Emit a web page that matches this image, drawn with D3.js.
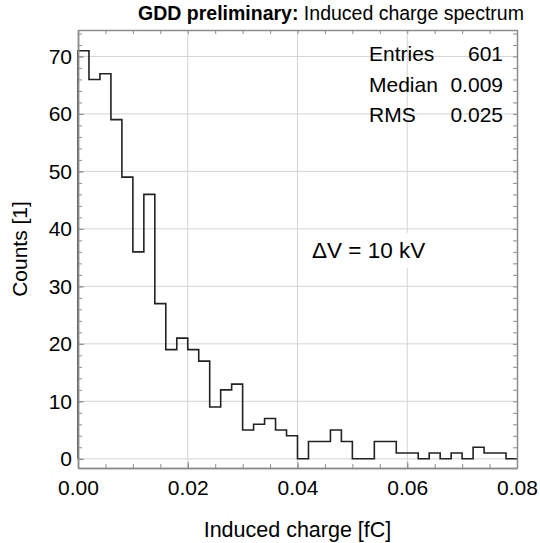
<!DOCTYPE html>
<html>
<head>
<meta charset="utf-8">
<script src="https://cdn.jsdelivr.net/npm/d3@7"></script>
<style>
  body { margin: 0; background: #fff; }
  svg { display: block; font-family: "Liberation Sans", Arial, Helvetica, sans-serif; }
</style>
</head>
<body>
<script>
// histogram: 40 bins of 0.002 fC from 0 to 0.08
var binLow = 0, binWidth = 0.002;
var counts = [71, 66, 67, 59, 49, 36, 46, 27, 19, 21,
              19, 17, 9, 12, 13, 5, 6, 7, 5, 4,
              0, 3, 3, 5, 3, 0, 0, 3, 3, 1,
              1, 0, 1, 0, 1, 0, 2, 1, 1, 0];
var xTicks = [0, 0.02, 0.04, 0.06, 0.08];
var yTicks = [0, 10, 20, 30, 40, 50, 60, 70];
var statNames = ["Entries", "Median", "RMS"];
var statValues = ["601", "0.009", "0.025"];

var width = 540, height = 543;
var m = {top: 30, right: 23, bottom: 75, left: 78};

var x = d3.scaleLinear().domain([0, 0.08]).range([m.left, width - m.right]);
var y = d3.scaleLinear().domain([-1.6, 74.6]).range([height - m.bottom, m.top]);

var svg = d3.select("body").append("svg")
    .attr("width", width)
    .attr("height", height);

// grid
svg.append("g").selectAll("line")
    .data(xTicks.slice(1, -1))
  .enter().append("line")
    .attr("x1", function(d) { return x(d); }).attr("x2", function(d) { return x(d); })
    .attr("y1", m.top).attr("y2", height - m.bottom)
    .attr("stroke", "#d4d4d4").attr("stroke-width", 1);
svg.append("g").selectAll("line")
    .data(yTicks)
  .enter().append("line")
    .attr("x1", m.left).attr("x2", width - m.right)
    .attr("y1", function(d) { return y(d); }).attr("y2", function(d) { return y(d); })
    .attr("stroke", "#d4d4d4").attr("stroke-width", 1);

// text box for the voltage label hides the grid under it
svg.append("rect")
    .attr("x", 305).attr("y", 233).attr("width", 140).attr("height", 35)
    .attr("fill", "#fff");

// histogram outline
var pts = [[x(binLow), y(0)]];
counts.forEach(function(c, i) {
  pts.push([x(binLow + i * binWidth), y(c)]);
  pts.push([x(binLow + (i + 1) * binWidth), y(c)]);
});
pts.push([x(binLow + counts.length * binWidth), y(0)]);
svg.append("path")
    .attr("d", d3.line()(pts))
    .attr("fill", "none")
    .attr("stroke", "#222")
    .attr("stroke-width", 1.6);

// axes, ticks on all four sides, pointing inwards
var axisCol = "#8c8c8c";
function addAxis(axis, tr) {
  var g = svg.append("g").attr("transform", tr).call(axis);
  g.select(".domain").attr("stroke", axisCol).attr("stroke-width", 1.5);
  g.selectAll(".tick line").attr("stroke", axisCol);
  g.selectAll(".tick text").attr("font-size", 21).attr("fill", "#000")
      .attr("font-family", "Liberation Sans, Arial, sans-serif");
  return g;
}
var xMinor = d3.range(0, 0.0801, 0.005);
var yMinor = d3.range(0, 75, 2);

addAxis(d3.axisBottom(x).tickValues(xMinor).tickSize(-4).tickSizeOuter(0).tickFormat(""),
        "translate(0," + (height - m.bottom) + ")");
addAxis(d3.axisBottom(x).tickValues(xTicks).tickSize(-6).tickSizeOuter(0).tickPadding(12).tickFormat(d3.format(".2f")),
        "translate(0," + (height - m.bottom) + ")");
addAxis(d3.axisTop(x).tickValues(xMinor).tickSize(-4).tickSizeOuter(0).tickFormat(""),
        "translate(0," + m.top + ")");
addAxis(d3.axisLeft(y).tickValues(yMinor).tickSize(-4).tickSizeOuter(0).tickFormat(""),
        "translate(" + m.left + ",0)");
addAxis(d3.axisLeft(y).tickValues(yTicks).tickSize(-6).tickSizeOuter(0).tickPadding(6),
        "translate(" + m.left + ",0)");
addAxis(d3.axisRight(y).tickValues(yMinor).tickSize(-4).tickSizeOuter(0).tickFormat(""),
        "translate(" + (width - m.right) + ",0)");

// title
var title = svg.append("text")
    .attr("x", 331).attr("y", 20)
    .attr("text-anchor", "middle")
    .attr("font-size", 19.5);
title.append("tspan").attr("font-weight", "bold").text("GDD preliminary:");
title.append("tspan").text(" Induced charge spectrum");

// axis titles
svg.append("text")
    .attr("x", (m.left + width - m.right) / 2).attr("y", 537)
    .attr("text-anchor", "middle").attr("font-size", 21.5)
    .text("Induced charge [fC]");
svg.append("text")
    .attr("transform", "translate(27,249) rotate(-90)")
    .attr("text-anchor", "middle").attr("font-size", 21)
    .text("Counts [1]");

// stats box
statNames.forEach(function(s, i) {
  svg.append("text").attr("x", 369).attr("y", 61 + i * 30.5)
      .attr("font-size", 21).text(s);
  svg.append("text").attr("x", 503).attr("y", 61 + i * 30.5)
      .attr("text-anchor", "end").attr("font-size", 21).text(statValues[i]);
});

svg.append("text")
    .attr("x", 312).attr("y", 258)
    .attr("font-size", 22.5)
    .text("ΔV = 10 kV");
</script>
</body>
</html>
